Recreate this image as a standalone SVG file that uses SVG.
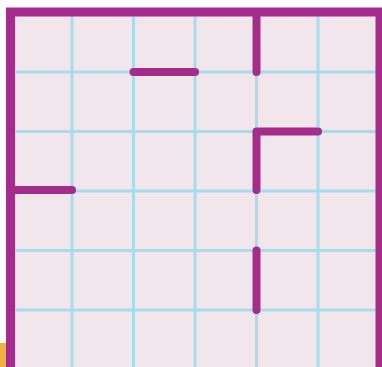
<svg xmlns="http://www.w3.org/2000/svg" width="382" height="367" viewBox="0 0 382 367">
<style>
.grid{stroke:#a9dce9;stroke-width:3;fill:none}
.wall{stroke:#a52c8b;stroke-width:8;stroke-linecap:round;stroke-linejoin:round;fill:none}
.border{stroke:#a52c8b;stroke-width:9;fill:none}
</style>
<rect width="382" height="367" fill="#ffffff"/>
<rect x="0" y="343" width="8" height="24" fill="#efb13f"/>
<rect x="10.5" y="12" width="369" height="359" fill="#f1e6ec"/>
<g id="grid" class="grid">
<path d="M72 12V371M133.5 12V371M195 12V371M256.5 12V371M318 12V371"/>
<path d="M10.5 72H379.5M10.5 131.5H379.5M10.5 191H379.5M10.5 250.5H379.5M10.5 310H379.5"/>
</g>
<g id="border">
<rect class="border" x="10.5" y="12" width="369.5" height="359.5"/>
</g>
<g id="connectors" class="wall">
<path d="M256.5 12V72"/>
<path d="M133.5 72H195"/>
<path d="M318 131.5H256.5V190"/>
<path d="M10.5 190H72"/>
<path d="M256.5 250.5V310"/>
</g>
</svg>
